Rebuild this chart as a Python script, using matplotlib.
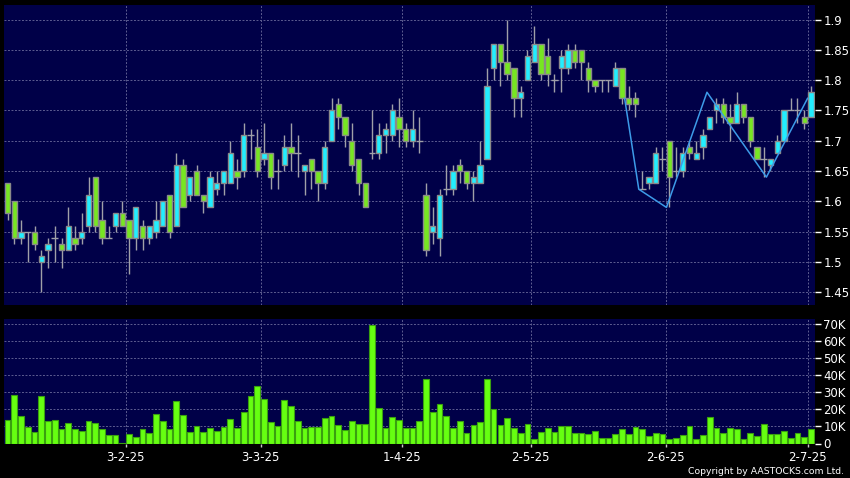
import matplotlib
matplotlib.use('Agg')
import matplotlib.pyplot as plt
from matplotlib.ticker import FuncFormatter
import numpy as np

# ---------------- data ----------------
opens = [1.63, 1.60, 1.54, 1.55, 1.55, 1.50, 1.52, 1.54, 1.53, 1.52,
         1.54, 1.54, 1.56, 1.64, 1.57, 1.54, 1.56, 1.58, 1.57, 1.54,
         1.56, 1.54, 1.55, 1.56, 1.61, 1.56, 1.66, 1.61, 1.65, 1.61,
         1.59, 1.62, 1.63, 1.63, 1.65, 1.65, 1.71, 1.69, 1.67, 1.68,
         1.65, 1.66, 1.69, 1.68, 1.65, 1.67, 1.65, 1.63, 1.70, 1.76,
         1.74, 1.70, 1.67, 1.63, 1.68, 1.68, 1.71, 1.71, 1.74, 1.72,
         1.70, 1.70, 1.61, 1.55, 1.54, 1.62, 1.62, 1.66, 1.65, 1.63,
         1.63, 1.67, 1.82, 1.86, 1.83, 1.82, 1.77, 1.80, 1.83, 1.86,
         1.84, 1.80, 1.82, 1.82, 1.85, 1.85, 1.82, 1.80, 1.80, 1.80,
         1.79, 1.82, 1.77, 1.77, 1.62, 1.63, 1.63, 1.67, 1.70, 1.65,
         1.65, 1.69, 1.67, 1.69, 1.72, 1.75, 1.76, 1.74, 1.73, 1.76,
         1.74, 1.69, 1.67, 1.66, 1.68, 1.70, 1.75, 1.75, 1.74, 1.74]
highs = [1.63, 1.60, 1.57, 1.55, 1.56, 1.52, 1.54, 1.56, 1.54, 1.59,
         1.56, 1.58, 1.64, 1.64, 1.60, 1.56, 1.58, 1.60, 1.57, 1.59,
         1.57, 1.56, 1.60, 1.60, 1.61, 1.68, 1.67, 1.64, 1.66, 1.61,
         1.65, 1.65, 1.65, 1.70, 1.67, 1.73, 1.72, 1.72, 1.73, 1.68,
         1.67, 1.71, 1.73, 1.71, 1.66, 1.67, 1.65, 1.70, 1.77, 1.77,
         1.74, 1.73, 1.67, 1.63, 1.75, 1.73, 1.73, 1.76, 1.77, 1.73,
         1.75, 1.74, 1.63, 1.59, 1.62, 1.66, 1.66, 1.67, 1.65, 1.65,
         1.70, 1.82, 1.86, 1.86, 1.90, 1.82, 1.79, 1.85, 1.89, 1.86,
         1.87, 1.81, 1.85, 1.86, 1.86, 1.85, 1.83, 1.80, 1.80, 1.80,
         1.83, 1.82, 1.79, 1.78, 1.65, 1.64, 1.69, 1.69, 1.70, 1.69,
         1.69, 1.70, 1.70, 1.72, 1.74, 1.77, 1.77, 1.76, 1.78, 1.76,
         1.74, 1.69, 1.69, 1.67, 1.71, 1.75, 1.77, 1.77, 1.75, 1.79]
lows = [1.57, 1.53, 1.53, 1.50, 1.52, 1.45, 1.49, 1.50, 1.49, 1.52,
        1.52, 1.53, 1.55, 1.55, 1.53, 1.54, 1.55, 1.56, 1.48, 1.52,
        1.52, 1.53, 1.54, 1.56, 1.54, 1.56, 1.59, 1.60, 1.61, 1.58,
        1.59, 1.61, 1.61, 1.63, 1.62, 1.64, 1.67, 1.64, 1.66, 1.62,
        1.62, 1.65, 1.65, 1.64, 1.61, 1.62, 1.60, 1.62, 1.70, 1.72,
        1.69, 1.65, 1.61, 1.59, 1.67, 1.67, 1.68, 1.70, 1.69, 1.69,
        1.69, 1.68, 1.51, 1.53, 1.51, 1.61, 1.61, 1.63, 1.62, 1.60,
        1.63, 1.67, 1.80, 1.79, 1.80, 1.74, 1.74, 1.80, 1.83, 1.80,
        1.79, 1.78, 1.78, 1.81, 1.82, 1.80, 1.78, 1.78, 1.78, 1.78,
        1.79, 1.76, 1.75, 1.74, 1.62, 1.62, 1.63, 1.65, 1.59, 1.64,
        1.64, 1.67, 1.67, 1.67, 1.72, 1.73, 1.73, 1.70, 1.73, 1.73,
        1.69, 1.67, 1.64, 1.65, 1.68, 1.70, 1.75, 1.73, 1.72, 1.74]
closes = [1.58, 1.54, 1.55, 1.55, 1.53, 1.51, 1.53, 1.54, 1.52, 1.56,
          1.53, 1.55, 1.61, 1.56, 1.54, 1.54, 1.58, 1.56, 1.54, 1.59,
          1.54, 1.56, 1.57, 1.60, 1.55, 1.66, 1.59, 1.64, 1.61, 1.60,
          1.64, 1.63, 1.65, 1.68, 1.64, 1.71, 1.71, 1.65, 1.68, 1.64,
          1.65, 1.69, 1.68, 1.68, 1.66, 1.65, 1.63, 1.69, 1.75, 1.74,
          1.71, 1.66, 1.63, 1.59, 1.68, 1.71, 1.72, 1.75, 1.72, 1.70,
          1.72, 1.70, 1.52, 1.56, 1.61, 1.62, 1.65, 1.65, 1.63, 1.64,
          1.66, 1.79, 1.86, 1.83, 1.81, 1.77, 1.78, 1.84, 1.86, 1.81,
          1.81, 1.80, 1.84, 1.85, 1.83, 1.83, 1.80, 1.79, 1.80, 1.80,
          1.82, 1.77, 1.76, 1.76, 1.62, 1.64, 1.68, 1.67, 1.64, 1.65,
          1.68, 1.68, 1.68, 1.71, 1.74, 1.76, 1.74, 1.73, 1.76, 1.74,
          1.70, 1.67, 1.67, 1.67, 1.70, 1.75, 1.75, 1.75, 1.73, 1.78]
volumes_k = [13.6, 28.2, 16.0, 9.7, 6.8, 27.6, 13.2, 14.0, 8.2, 11.7,
             8.2, 7.4, 13.0, 11.7, 8.2, 4.9, 4.9, 0.4, 5.4, 3.9,
             8.4, 6.2, 17.1, 13.4, 8.2, 25.1, 16.9, 6.8, 10.1, 6.8,
             9.1, 7.2, 9.7, 14.2, 9.1, 18.5, 28.0, 33.3, 25.7, 12.6,
             10.1, 25.5, 21.8, 13.0, 9.1, 9.7, 9.7, 14.6, 16.0, 10.7,
             7.8, 13.0, 11.1, 11.1, 69.1, 20.8, 9.3, 15.2, 14.0, 9.3,
             8.8, 13.2, 37.5, 18.3, 23.0, 16.1, 9.1, 13.2, 6.2, 10.7,
             12.6, 37.5, 20.2, 10.7, 14.6, 9.1, 6.2, 11.1, 2.5, 6.8,
             8.8, 6.8, 10.1, 10.1, 6.4, 6.4, 5.4, 7.4, 3.3, 3.5,
             5.4, 8.2, 5.4, 9.7, 8.2, 4.5, 6.2, 5.4, 2.9, 3.5,
             4.9, 10.1, 2.5, 4.9, 15.6, 8.8, 6.2, 9.3, 8.2, 2.9,
             6.4, 4.3, 11.1, 5.3, 5.3, 7.4, 3.5, 6.2, 3.9, 8.4]
month_labels = ['3-2-25', '3-3-25', '1-4-25', '2-5-25', '2-6-25', '2-7-25']
month_index = [18, 38, 59, 78, 98, 119]
trend_x = [91.4, 93.5, 97.6, 103.6, 112.4, 118.5]
trend_y = [1.77, 1.62, 1.59, 1.78, 1.64, 1.77]
price_ticks = [1.45, 1.5, 1.55, 1.6, 1.65, 1.7, 1.75, 1.8, 1.85, 1.9]
vol_ticks = [0, 10, 20, 30, 40, 50, 60, 70]

# ---------------- style ----------------
BG = 'black'
PANEL = '#000048'
GRID = '#5c5c90'
UP = '#22eeff'
DOWN = '#77e622'
EDGE = '#8a8a8a'
WICK = '#a0a0a8'
VOL = '#66ff11'
VOL_EDGE = '#3aa010'

W, H = 850, 478
def rect(l, t, r, b):
    return [l / W, 1 - b / H, (r - l) / W, (b - t) / H]

fig = plt.figure(figsize=(W / 100, H / 100), dpi=100, facecolor=BG)
ax = fig.add_axes(rect(4, 5, 815, 305))
axv = fig.add_axes(rect(4, 319, 815, 443.5))

o = np.array(opens); h = np.array(highs); l = np.array(lows); c = np.array(closes)
x = np.arange(len(o))
xlim = (-0.52, 119.6)

for a in (ax, axv):
    a.set_facecolor(PANEL)
    for s in a.spines.values():
        s.set_visible(False)
    a.set_xlim(*xlim)
    a.set_xticks([i - 0.5 for i in month_index])
    a.grid(True, color=GRID, linestyle=(0, (2, 1.6)), linewidth=0.7)
    a.set_axisbelow(True)
    a.yaxis.tick_right()
    a.tick_params(axis='y', colors='white', labelcolor='white', length=4,
                  width=1, pad=2, labelsize=8.5, direction='out')

# candles
ax.vlines(x, l, h, color=WICK, linewidth=1, zorder=2)
doji = np.isclose(o, c)
up = (c > o) & ~doji
down = (c < o) & ~doji
for mask, col in ((up, UP), (down, DOWN)):
    bottoms = np.minimum(o, c)[mask]
    heights = np.abs(c - o)[mask]
    ax.bar(x[mask], heights, bottom=bottoms, width=0.78, color=col,
           edgecolor=EDGE, linewidth=1, zorder=3)
ax.hlines(o[doji], x[doji] - 0.5, x[doji] + 0.5, color=WICK, linewidth=1, zorder=3)

ax.plot(trend_x, trend_y, color='#3d9be8', linewidth=1.1, zorder=4)

ax.set_ylim(1.429, 1.924)
ax.set_yticks(price_ticks)
ax.yaxis.set_major_formatter(FuncFormatter(lambda v, p: '%g' % round(v, 2)))
ax.tick_params(axis='x', length=0, labelbottom=False)

# volume
axv.bar(x, volumes_k, width=0.85, color=VOL, edgecolor=VOL_EDGE, linewidth=0.8, zorder=3)
axv.set_ylim(0, 72.7)
axv.set_yticks(vol_ticks)
axv.yaxis.set_major_formatter(FuncFormatter(lambda v, p: '0' if v == 0 else '%dK' % v))
axv.set_xticklabels(month_labels)
axv.tick_params(axis='x', colors='#c8c8c8', labelcolor='white', length=2.5,
                width=1, pad=3, labelsize=8.5)

fig.text(844 / W, 1 - 471.5 / H, 'Copyright by AASTOCKS.com Ltd.', ha='right',
         va='center', color='white', fontsize=6.7)

fig.savefig('out.png', dpi=100, facecolor=BG)
